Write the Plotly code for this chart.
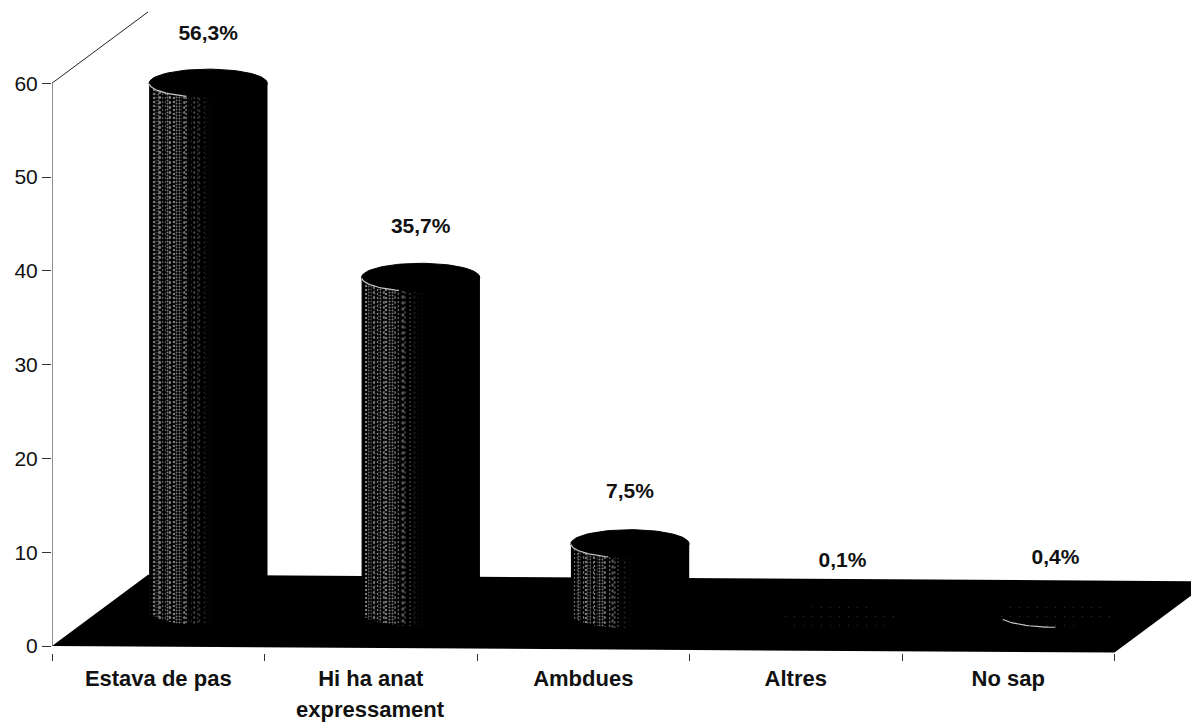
import numpy as np
import plotly.graph_objects as go

categories = ["Estava de pas", "Hi ha anat", "Ambdues", "Altres", "No sap"]
second_line = ["", "expressament", "", "", ""]
values = [56.3, 35.7, 7.5, 0.1, 0.4]
bases = [3.7, 3.6, 3.4, 2.8, 3.1]          # depth offset of the cylinder base on the floor
centre_shift = [0.235, 0.235, 0.22, 0.22, 0.222]  # cylinder centre right of the category centre
y_ticks = [0, 10, 20, 30, 40, 50, 60]

FONT = "Liberation Sans"
INK = "#111111"
HALF = 0.278        # cylinder half width, in categories
CAP = 1.5           # cap half height, in y units
DEPTH_X = 0.452
DEPTH_Y = 7.6
N = 36
GRAIN_DENSE = [3, 4, 3, 5, 4, 3, 5, 4, 3]
GRAIN_SPARSE = [7, 11, 6, 13, 9, 7, 15, 8, 12]

vals = np.array(values)
bs = np.array(bases)
shift = np.array(centre_shift)
x = np.arange(len(values))
fig = go.Figure()

# black underlay of each cylinder
fig.add_trace(go.Bar(x=x, y=vals, base=bs, width=2 * HALF, offset=shift - HALF,
                     marker=dict(color="#000000", line=dict(width=0)),
                     hoverinfo="skip", showlegend=False))

# cylinder bodies: narrow strips, grey with a stipple, fading to black
w = 2 * HALF / N
for k in range(N):
    u = (k + 0.5) / N * 2 - 1
    t = (k + 0.5) / N
    drop = CAP * np.sqrt(1 - u * u)
    if t < 0.03:
        grey, sol, size, op = 30, 0.1, 4, 1
    elif t < 0.27:
        grey, sol, size, op = 120, 0.34, GRAIN_DENSE[k % 9], 1
    elif t < 0.55:
        f = (0.55 - t) / 0.28
        grey, sol, size, op = int(120 * f), 0.04 + 0.3 * f, GRAIN_DENSE[k % 9] + 1, 1
    elif t < 0.72:
        grey, sol, size, op = 0, 0.02, GRAIN_SPARSE[k % 9], 0.5
    else:
        grey, sol, size, op = 0, 0.0, 4, 1
    col = f"rgb({grey},{grey},{grey})"
    sols = [sol, sol, sol, 0.0, 0.0]
    bg = [col, col, col, "#000000", "#000000"]
    fig.add_trace(go.Bar(
        x=x, y=vals + drop, base=bs - drop,
        width=w * 1.02, offset=shift - HALF + k * w,
        marker=dict(color=bg, line=dict(width=0),
                    pattern=dict(shape="." if sol > 0 else "", fgcolor="#eeeeee", bgcolor=bg,
                                 fgopacity=op, size=size, solidity=sols, fillmode="replace")),
        hoverinfo="skip", showlegend=False))

# caps, drawn from the values
theta = np.linspace(0, 2 * np.pi, 90)
for i, (v, b) in enumerate(zip(values, bases)):
    cx = i + shift[i] + HALF * np.cos(theta)
    cy = v + b + CAP * np.sin(theta)
    low = i >= 3
    fig.add_trace(go.Scatter(
        x=cx, y=cy, mode="lines", fill="toself", fillcolor="#000000",
        fillpattern=dict(shape=".", fgcolor="#555555", bgcolor="#000000", size=9, solidity=0.02) if low else None,
        line=dict(color="#000000", width=1), hoverinfo="skip", showlegend=False,
        cliponaxis=False))

# lit rim at the lower left of caps
arc = np.linspace(np.pi * 1.02, np.pi * 1.38, 20)
for i, (v, b) in enumerate(zip(values, bases)):
    if i == 3:
        continue
    rim = np.linspace(np.pi * 1.15, np.pi * 1.5, 20) if i == 4 else arc
    fig.add_trace(go.Scatter(
        x=i + shift[i] + HALF * np.cos(rim), y=v + b + CAP * np.sin(rim),
        mode="lines", line=dict(color="#c8c8c8", width=1.2),
        hoverinfo="skip", showlegend=False))

# walls
wall_x = [-0.5, -0.5, -0.5 + DEPTH_X]
wall_y = [0, y_ticks[-1], y_ticks[-1] + DEPTH_Y]
fig.add_trace(go.Scatter(x=wall_x, y=wall_y, mode="lines", cliponaxis=False,
                         line=dict(color="#222222", width=1),
                         hoverinfo="skip", showlegend=False))

# data labels
labels = [f"{v:.1f}".replace(".", ",") + "%" for v in values]
fig.add_trace(go.Scatter(
    x=x + shift, y=vals + 8.85, mode="text", text=labels, cliponaxis=False,
    textfont=dict(family=FONT, size=21, color=INK, weight="bold"),
    hoverinfo="skip", showlegend=False))

# floor
fig.add_shape(type="path", layer="below", xref="x", yref="y",
              path=f"M -0.5 0 L 4.5 -0.7 L {4.5 + DEPTH_X} {DEPTH_Y - 0.7} "
                   f"L {-0.5 + DEPTH_X} {DEPTH_Y} Z",
              fillcolor="#000000", line=dict(width=0))

for i, t in enumerate(second_line):
    if t:
        fig.add_annotation(x=i, y=-0.087, xref="x", yref="paper", text=t, showarrow=False,
                           yanchor="middle", font=dict(family=FONT, size=22, color=INK, weight="bold"))

fig.update_layout(
    width=1191, height=725, autosize=False,
    margin=dict(l=52, r=0, t=0, b=72, pad=0),
    paper_bgcolor="white", plot_bgcolor="white",
    barmode="overlay", showlegend=False,
    xaxis=dict(range=[-0.5, -0.5 + 1139 / 212.5], showgrid=False, zeroline=False, showline=False,
               tickmode="array", tickvals=list(x), ticktext=categories, ticks="",
               tickfont=dict(family=FONT, size=22, color=INK, weight="bold"),
               ticklabelstandoff=10,
               minor=dict(tickmode="array", tickvals=[-0.5, 0.5, 1.5, 2.5, 3.5, 4.5],
                          ticks="outside", ticklen=7, tickwidth=1, tickcolor="#333333")),
    yaxis=dict(range=[-0.746, 646 / 9.38], showgrid=False, zeroline=False, showline=False,
               tickmode="array", tickvals=y_ticks, ticks="outside", ticklen=9, tickwidth=1,
               tickcolor="#333333",
               tickfont=dict(family=FONT, size=21, color=INK)),
)

fig.write_html("out.html", config=dict(displayModeBar=False),
               post_script="document.body.style.margin='0';")
